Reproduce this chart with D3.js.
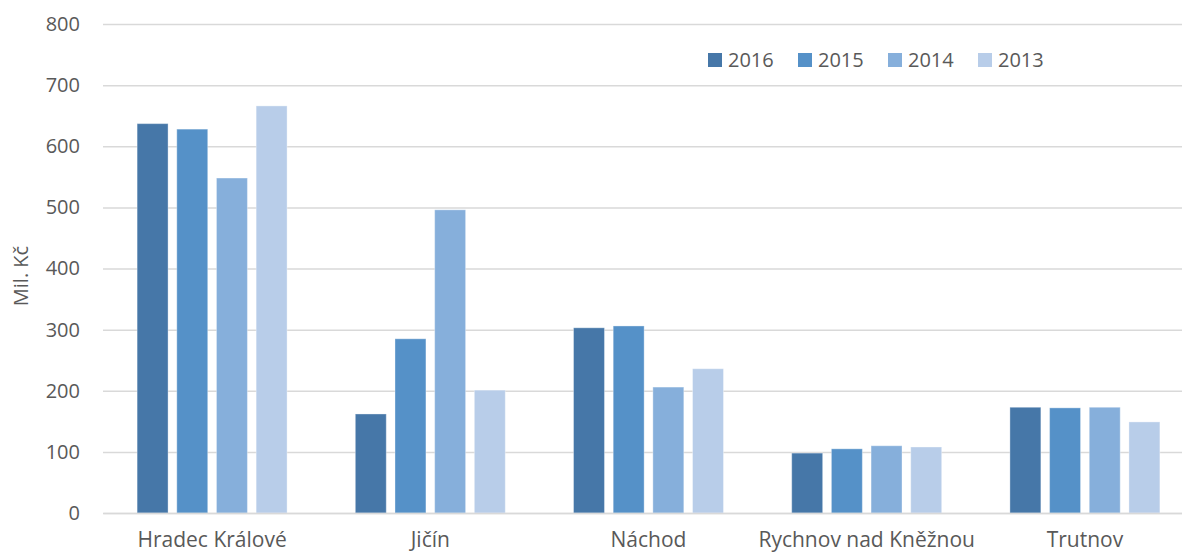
<!DOCTYPE html>
<html><head><meta charset="utf-8">
<script src="https://cdn.jsdelivr.net/npm/d3@7"></script>
<style>body{margin:0;background:#fff;overflow:hidden}svg{display:block}text{font-family:"Open Sans",sans-serif;fill:#595959}</style>
</head><body><svg id="c" width="1182" height="553"></svg>
<script>
const categories = ["Hradec Králové","Jičín","Náchod","Rychnov nad Kněžnou","Trutnov"];
const years = ["2016","2015","2014","2013"];
const v2016 = [637,162,303,98,173];
const v2015 = [628,285,306,105,172];
const v2014 = [548,496,206,110,173];
const v2013 = [666,201,236,108,149];
const yTicks = [0,100,200,300,400,500,600,700,800];
const colors = ["#4677a8","#5591c8","#86afdb","#b8cde9"];
const series = [v2016,v2015,v2014,v2013];

const svg = d3.select("#c");
const L=103,R=1194,T=24,B=513;
const y = d3.scaleLinear().domain([0,800]).range([B,T]);
const x0 = d3.scaleBand().domain(categories).range([L,R]).paddingInner(0.3127).paddingOuter(0.15635);
const x1 = d3.scaleBand().domain(years).range([0,x0.bandwidth()]).paddingInner(0.22);

const ya = svg.append("g").attr("transform",`translate(${L},0)`)
  .call(d3.axisLeft(y).tickValues(yTicks).tickSize(-(R-L)).tickPadding(23));
ya.select(".domain").remove();
ya.selectAll("line").attr("stroke","#d9d9d9").attr("stroke-width",1.5);
ya.selectAll("text").style("font-size","20px").attr("fill","#595959");

svg.append("text").attr("transform","translate(28,276) rotate(-90)").attr("text-anchor","middle")
  .style("font-size","20px").text("Mil. Kč");

const g = svg.append("g");
categories.forEach((c,i)=>{
  years.forEach((yr,j)=>{
    g.append("rect").attr("x",x0(c)+x1(yr)).attr("width",x1.bandwidth())
      .attr("y",y(series[j][i])).attr("height",y(0)-y(series[j][i]))
      .attr("fill",colors[j]).attr("stroke","#ffffff").attr("stroke-opacity",0.35).attr("stroke-width",1);
  });
});

const xa = svg.append("g").attr("transform",`translate(0,${B})`)
  .call(d3.axisBottom(x0).tickSize(0).tickPadding(0));
xa.select(".domain").attr("stroke","#d9d9d9").attr("stroke-width",1.5);
xa.selectAll("text").attr("dy",null).attr("y",34).style("font-size","21px").attr("fill","#595959");

const lg = svg.append("g");
years.forEach((yr,j)=>{
  const lx = 708 + j*90;
  lg.append("rect").attr("x",lx).attr("y",53).attr("width",14).attr("height",14).attr("fill",colors[j]);
  lg.append("text").attr("x",lx+20).attr("y",67).style("font-size","20px").text(yr);
});
</script></body></html>
